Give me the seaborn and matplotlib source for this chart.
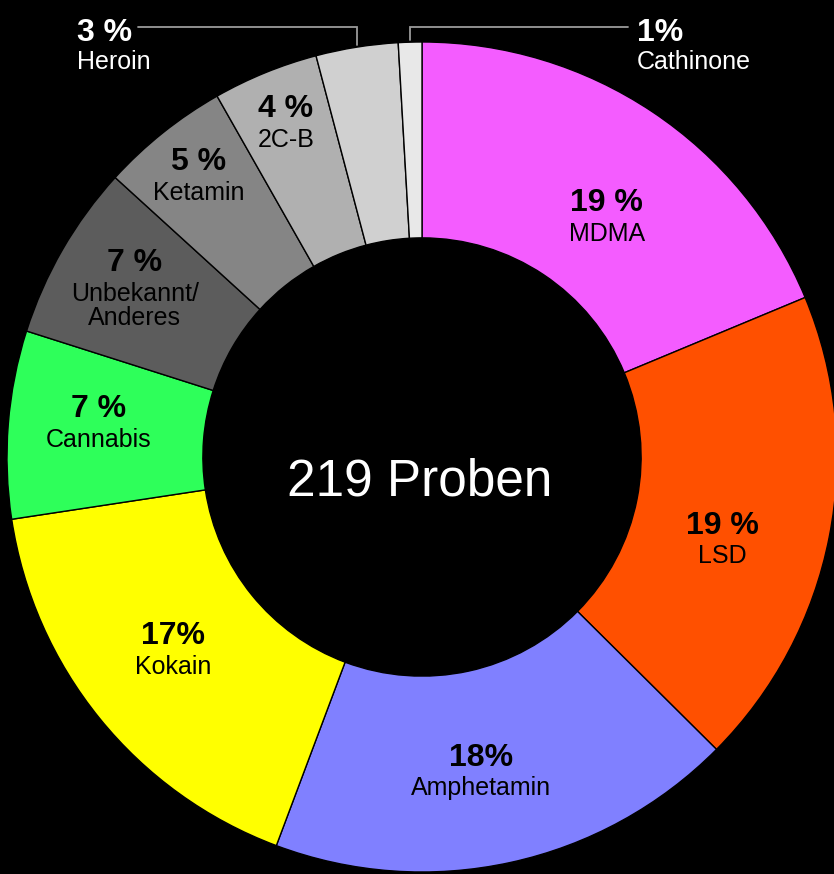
import numpy as np
import matplotlib
matplotlib.use("Agg")
import matplotlib.pyplot as plt
import seaborn as sns

# sample counts per substance (219 total), clockwise from 12 o'clock
substances = ["MDMA", "LSD", "Amphetamin", "Kokain", "Cannabis",
              "Unbekannt/\nAnderes", "Ketamin", "2C-B", "Heroin", "Cathinone"]
counts = [41, 41, 40, 37, 16, 15, 11, 9, 7, 2]
pct_labels = ["19 %", "19 %", "18%", "17%", "7 %", "7 %", "5 %", "4 %", "3 %", "1%"]
colors = ["#F45CFF", "#FF5000", "#8080FF", "#FFFF00", "#2EFF5A",
          "#5C5C5C", "#858585", "#B0B0B0", "#D0D0D0", "#E8E8E8"]
center_text = "219 Proben"

sns.set_theme(style="dark", rc={"axes.facecolor": "black", "figure.facecolor": "black"})
plt.rcParams["font.family"] = ["Liberation Sans", "DejaVu Sans"]

W, H = 834, 874
cx, cy, R = 422, 457, 415  # pixel centre / outer radius

fig = plt.figure(figsize=(W / 100, H / 100), dpi=100, facecolor="black")
ax = fig.add_axes([0, 0, 1, 1])
ax.set_facecolor("black")

wedges, _ = ax.pie(counts, colors=colors, startangle=90, counterclock=False,
                   radius=1.0,
                   wedgeprops=dict(width=0.472, edgecolor="black", linewidth=1.0))

ax.set_xlim(-cx / R, (W - cx) / R)
ax.set_ylim(-(H - cy) / R, cy / R)
ax.set_aspect("auto")
ax.axis("off")

total = sum(counts)
cum = np.cumsum([0] + counts[:-1])
mid = [90 - 360 * (c + v / 2) / total for c, v in zip(cum, counts)]

# label placement inside the ring: radius and small angle nudge
label_r = [0.735, 0.75, 0.765, 0.755, 0.785, 0.82, 0.87, 0.875]
label_dt = [-3.6, -3.8, -1.6, -1.7, -1.9, -2.4, -0.4, -0.2]

for i in range(8):
    a = np.deg2rad(mid[i] + label_dt[i])
    x = label_r[i] * np.cos(a)
    y = label_r[i] * np.sin(a)
    ax.text(x, y + 0.008, pct_labels[i], ha="center", va="baseline",
            fontsize=23, fontweight="bold", color="black")
    ax.text(x, y - 0.018, substances[i], ha="center", va="top",
            fontsize=18, color="black", linespacing=1.0)

# small slices: labels outside with elbow leader lines
line_y = (cy - 27) / R
for i, tx in [(8, 77), (9, 637)]:
    a = np.deg2rad(mid[i])
    ex = 1.0 * np.cos(a)
    ey = np.sin(a) * 1.005
    x0 = (tx - cx) / R
    ax.text(x0, (cy - 41) / R, pct_labels[i], ha="left", va="baseline",
            fontsize=23, fontweight="bold", color="white")
    ax.text(x0, (cy - 50) / R, substances[i], ha="left", va="top",
            fontsize=18, color="white")
    if i == 8:
        xs = [(138 - cx) / R, ex, ex]
    else:
        xs = [(628 - cx) / R, ex, ex]
    ax.plot(xs, [line_y, line_y, ey], color="#9a9a9a", lw=1.3,
            solid_joinstyle="miter")

ax.text(-0.005, (cy - 496) / R, center_text, ha="center", va="baseline",
        fontsize=37, color="white")

fig.savefig("out.png", dpi=100, facecolor="black")
